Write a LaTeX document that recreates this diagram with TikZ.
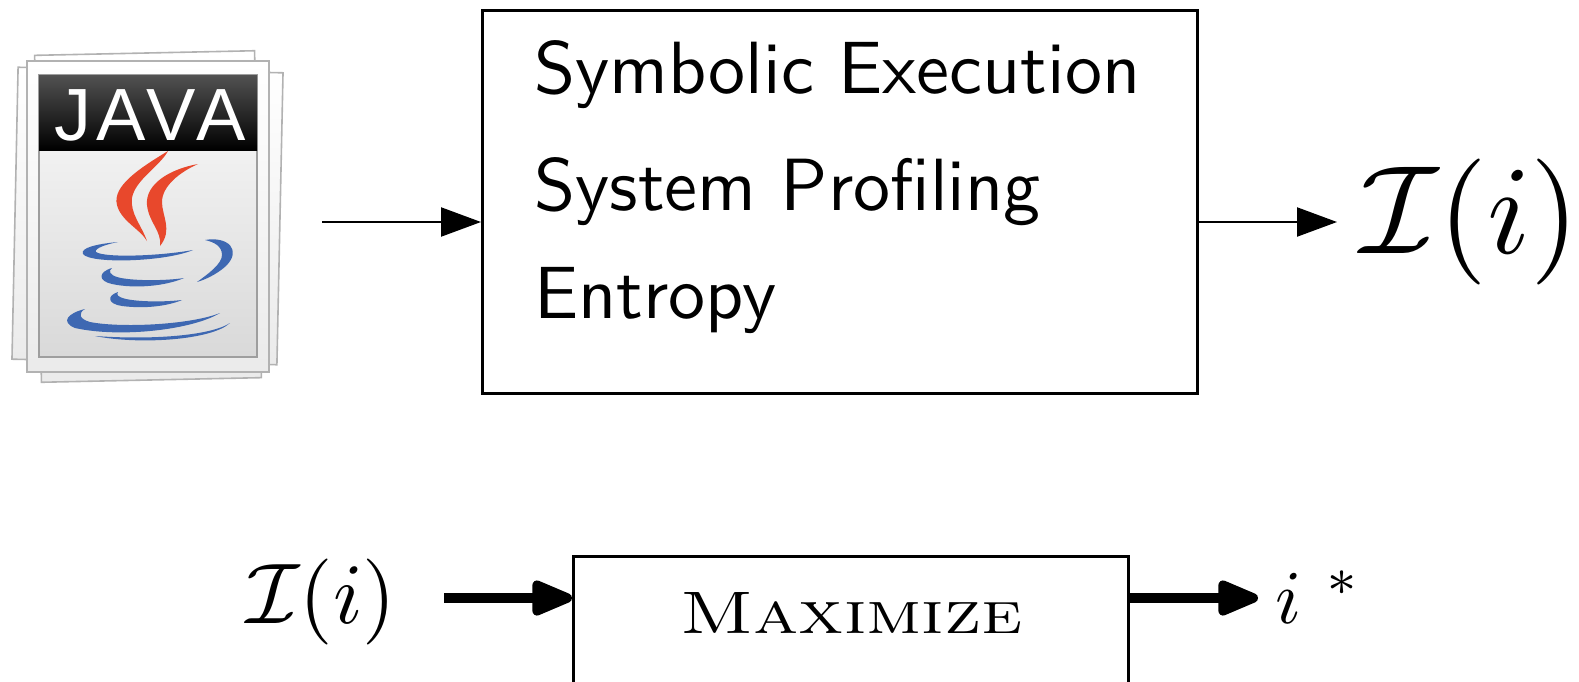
\documentclass[tikz,border=0pt]{standalone}
\usepackage{fontspec}
\usepackage{graphicx}
\usetikzlibrary{arrows.meta}
\newfontfamily\javafont{Liberation Sans}[LetterSpace=8]
\definecolor{javared}{RGB}{232,72,44}
\definecolor{javablue}{RGB}{62,104,178}
\begin{document}
\begin{tikzpicture}[x=0.5pt,y=-0.5pt,
  box/.style={draw, line width=1.35pt, inner sep=0pt},
  thinarrow/.style={line width=1.1pt, -{Triangle[length=20pt,width=14.5pt]}},
  thickarrow/.style={line width=4.7pt, -{Triangle[length=24pt,width=18.5pt,round]}},
  boxtext/.style={anchor=base west, inner sep=0pt, font=\fontsize{10}{12}\selectfont\sffamily},
  mathlabel/.style={anchor=base west, inner sep=0pt, font=\fontsize{10}{12}\selectfont},
  sheet/.style={draw=black!30, line width=0.8pt, top color=white, bottom color=black!8},
  flame/.style={fill=javared, draw=none},
  cup/.style={fill=javablue, draw=none},
]
\useasboundingbox (0,0) rectangle (1579,681);
\clip (0,0) rectangle (1579,681);

% ---- Java source file icon ----
\draw[sheet, rotate around={1.2:(148,216)}] (38,53) rectangle (258,380);
\draw[sheet, rotate around={-1.2:(148,216)}] (15,70) rectangle (280,362);
\draw[sheet] (27,61) rectangle (269,372);
\draw[draw=black!38, line width=0.8pt, top color=black!2, bottom color=black!15] (39,75) rectangle (257,357);
\fill[top color=black!68, bottom color=black] (39,75) rectangle (257,150);
\node[anchor=base, text=white, inner sep=0pt, font=\javafont\fontsize{37}{40}\selectfont] (javalabel) at (150,140) {JAVA};
% steam
\fill[flame] (168,151) .. controls (140,168) and (112,186) .. (117,205)
  .. controls (121,221) and (140,229) .. (147,241)
  .. controls (142,226) and (130,214) .. (132,198)
  .. controls (135,180) and (160,166) .. (168,151) -- cycle;
\fill[flame] (198,164) .. controls (170,169) and (145,184) .. (147,205)
  .. controls (149,223) and (162,231) .. (160,246)
  .. controls (173,230) and (162,216) .. (162,202)
  .. controls (162,186) and (180,172) .. (198,164) -- cycle;
% cup
\fill[cup] (118,242) .. controls (96,244) and (80,248) .. (83,254)
  .. controls (90,264) and (165,262) .. (193,250)
  .. controls (160,256) and (105,258) .. (96,252)
  .. controls (94,248) and (108,244) .. (118,242) -- cycle;
\fill[cup] (205,240) .. controls (228,236) and (242,250) .. (226,266)
  .. controls (216,275) and (204,280) .. (197,282)
  .. controls (208,274) and (222,264) .. (222,255)
  .. controls (222,246) and (214,242) .. (205,240) -- cycle;
\fill[cup] (112,268) .. controls (98,272) and (98,281) .. (112,284)
  .. controls (135,289) and (166,286) .. (184,278)
  .. controls (165,281) and (130,281) .. (117,277)
  .. controls (110,275) and (108,271) .. (112,268) -- cycle;
\fill[cup] (118,292) .. controls (106,296) and (108,304) .. (122,306)
  .. controls (145,309) and (168,306) .. (182,300)
  .. controls (165,302) and (140,302) .. (126,299)
  .. controls (118,297) and (116,295) .. (118,292) -- cycle;
\fill[cup] (85,309) .. controls (68,313) and (60,322) .. (75,328)
  .. controls (120,338) and (192,330) .. (220,313)
  .. controls (190,325) and (120,328) .. (90,322)
  .. controls (79,319) and (78,313) .. (85,309) -- cycle;
\fill[cup] (95,336) .. controls (140,345) and (212,340) .. (230,323)
  .. controls (210,336) and (150,340) .. (95,336) -- cycle;

% ---- analysis box ----
\node[box, anchor=north west, minimum width=357.5pt, minimum height=191.5pt] (analysis) at (481,9) {};
\node[boxtext] (symb) at (534,93) {\scalebox{3.7}{Symbolic Execution}};
\node[boxtext] (prof) at (534,210) {\scalebox{3.7}{System Profiling}};
\node[boxtext] (entr) at (534,318) {\scalebox{3.7}{Entropy}};

\coordinate (javaout) at (322,222);
\draw[thinarrow] (javaout) -- (javaout -| analysis.west);

\coordinate (itip) at (1337,222);
\draw[thinarrow] (itip -| analysis.east) -- (itip);
\node[mathlabel] (Itop) at (1360,253) {\scalebox{6.3}{$\mathcal{I}(i)$}};

% ---- maximisation box ----
\node[mathlabel] (Ibot) at (246,623) {\scalebox{4.3}{$\mathcal{I}(i)$}};
\node[box, anchor=north west, minimum width=277.5pt, minimum height=95pt] (maxbox) at (572,555) {};
\node[mathlabel] (maxlabel) at (680,633) {\scalebox{3.7}[3.0]{\textsc{Maximize}}};

\coordinate (maxin) at (444,598);
\draw[thickarrow] (maxin) -- (maxin -| maxbox.west);
\coordinate (maxout) at (1258,598);
\draw[thickarrow] (maxout -| maxbox.east) -- (maxout);
\node[mathlabel] (istar) at (1275,623) {\scalebox{3.8}{$i\ {}^{*}$}};
\end{tikzpicture}
\end{document}
